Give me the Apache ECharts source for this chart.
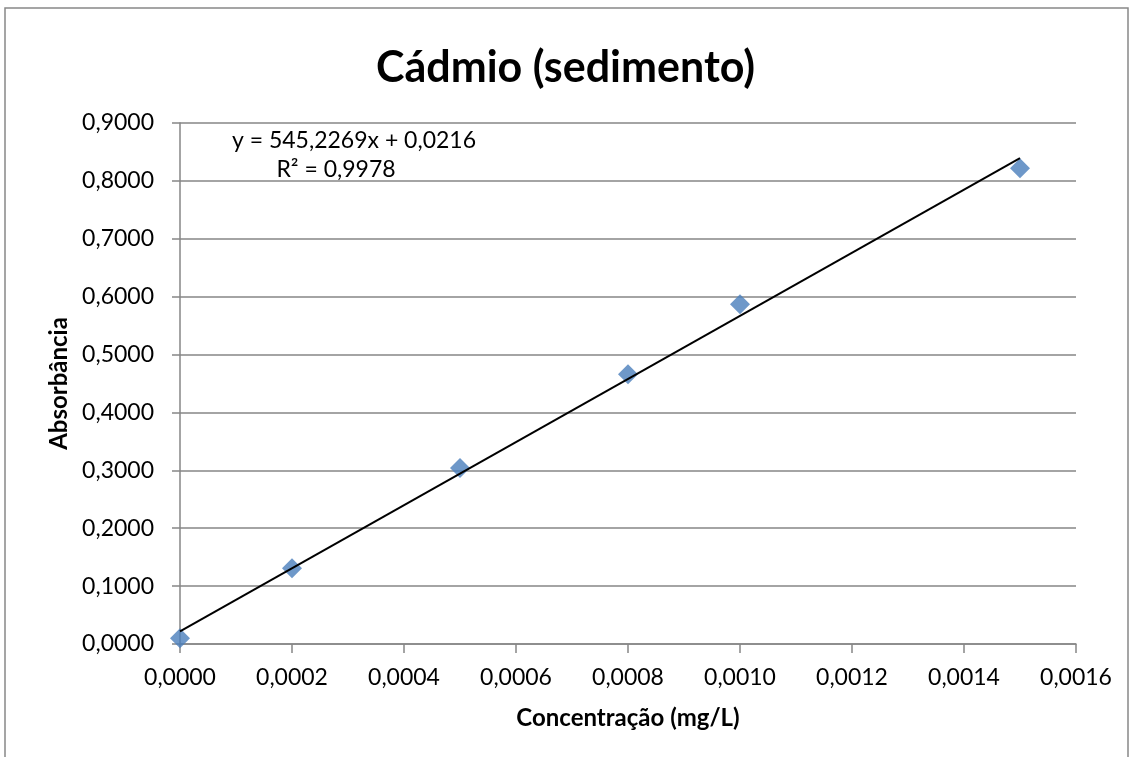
<!DOCTYPE html>
<html>
<head>
<meta charset="utf-8">
<script src="https://cdn.jsdelivr.net/npm/echarts@6/dist/echarts.min.js"></script>
<style>
html,body{margin:0;padding:0;background:#fff;}
#chart{width:1131px;height:757px;}
</style>
</head>
<body>
<div id="chart"></div>
<script>
// Data
const concentrations = [0.0000, 0.0002, 0.0005, 0.0008, 0.0010, 0.0015];
const absorbances    = [0.010, 0.131, 0.304, 0.466, 0.587, 0.822];
// Linear trendline endpoints (from y = 545,2269x + 0,0216)
const trendX = [0.0000, 0.0015];
const trendY = [0.0216, 0.8394];
const titleText = 'Cádmio (sedimento)';
const xAxisName = 'Concentração (mg/L)';
const yAxisName = 'Absorbância';
const equationText = 'y = 545,2269x + 0,0216';
const r2Text = 'R² = 0,9978';

const FONT = 'Lato, "Open Sans", sans-serif';
const fmt = v => v.toFixed(4).replace('.', ',');

const chart = echarts.init(document.getElementById('chart'), null, {renderer: 'canvas'});
chart.setOption({
  animation: false,
  backgroundColor: '#fff',
  textStyle: {fontFamily: FONT},
  title: {
    text: titleText,
    left: 'center',
    top: 42,
    textStyle: {fontFamily: FONT, fontSize: 43, fontWeight: 'bold', color: '#000'}
  },
  grid: {left: 180, right: 55, top: 123, bottom: 113},
  xAxis: {
    type: 'value',
    min: 0, max: 0.0016, interval: 0.0002,
    name: xAxisName,
    nameLocation: 'middle',
    nameGap: 62,
    nameTextStyle: {fontFamily: FONT, fontSize: 24, fontWeight: 'bold', color: '#000'},
    axisLine: {show: true, lineStyle: {color: '#868686', width: 1.5}},
    axisTick: {show: true, length: 9, lineStyle: {color: '#868686', width: 1.5}},
    axisLabel: {formatter: fmt, fontFamily: FONT, fontSize: 23, color: '#000', margin: 22},
    splitLine: {show: false}
  },
  yAxis: {
    type: 'value',
    min: 0, max: 0.9, interval: 0.1,
    name: yAxisName,
    nameLocation: 'middle',
    nameGap: 106,
    nameRotate: 90,
    nameTextStyle: {fontFamily: FONT, fontSize: 24, fontWeight: 'bold', color: '#000'},
    axisLine: {show: true, lineStyle: {color: '#868686', width: 1.5}},
    axisTick: {show: true, length: 8, lineStyle: {color: '#868686', width: 1.5}},
    axisLabel: {formatter: fmt, fontFamily: FONT, fontSize: 23, color: '#000', margin: 26},
    splitLine: {show: true, lineStyle: {color: '#868686', width: 1.5}}
  },
  series: [
    {
      type: 'line',
      data: trendX.map((x, i) => [x, trendY[i]]),
      symbol: 'none',
      lineStyle: {color: '#000', width: 2},
      z: 3
    },
    {
      type: 'scatter',
      data: concentrations.map((x, i) => [x, absorbances[i]]),
      symbol: 'diamond',
      symbolSize: [20, 20],
      itemStyle: {color: '#4a7ebb'},
      z: 2
    }
  ],
  graphic: [
    {
      type: 'rect',
      shape: {x: 5, y: 8, width: 1123, height: 800},
      style: {fill: 'none', stroke: '#888', lineWidth: 1.5},
      silent: true
    },
    {
      type: 'text',
      x: 354, y: 141,
      style: {text: equationText, fontFamily: FONT, fontSize: 23, fill: '#000', align: 'center', verticalAlign: 'middle'}
    },
    {
      type: 'text',
      x: 336, y: 170,
      style: {text: r2Text, fontFamily: FONT, fontSize: 23, fill: '#000', align: 'center', verticalAlign: 'middle'}
    }
  ]
});
</script>
</body>
</html>
